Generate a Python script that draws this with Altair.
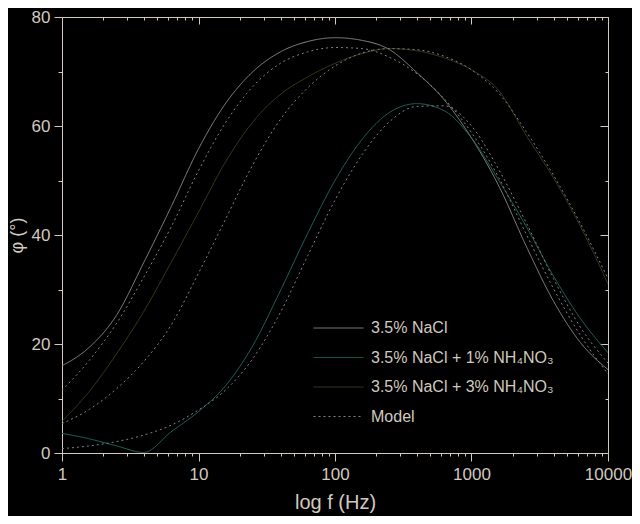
import altair as alt
import pandas as pd

# frequencies (Hz), log-spaced grid
FREQ = [1, 1.585, 2.512, 3.981, 6.31, 10, 15.85, 25.12, 39.81, 63.1, 100,
        158.5, 251.2, 398.1, 631, 1000, 1585, 2512, 3981, 6310, 10000]

NACL = [16.0, 19.4, 25.3, 35.0, 45.2, 55.8, 64.2, 70.0, 73.6, 75.5, 76.2,
        75.7, 74.0, 69.8, 64.8, 57.8, 49.0, 38.0, 27.9, 20.2, 15.3]
NACL_MODEL = [11.5, 17.0, 23.8, 32.3, 41.5, 51.8, 60.7, 67.3, 71.5, 73.6, 74.4,
              74.2, 72.6, 69.6, 65.0, 58.8, 50.5, 40.2, 30.2, 21.5, 14.5]
AN1 = [3.6, 2.6, 1.3, 0.1, 3.9, 7.6, 12.4, 19.8, 29.8, 40.3, 50.0,
       57.6, 62.5, 64.1, 62.8, 57.8, 50.0, 41.6, 32.5, 24.6, 18.4]
AN1_MODEL = [0.8, 1.3, 2.1, 3.3, 5.1, 7.9, 11.6, 17.4, 25.8, 36.2, 46.4,
             54.8, 60.8, 63.6, 63.7, 60.0, 52.0, 42.3, 32.0, 23.0, 16.5]
AN3 = [5.8, 11.3, 18.2, 26.0, 35.0, 44.2, 53.5, 60.8, 65.8, 69.0, 71.5,
       73.3, 74.2, 73.8, 72.5, 70.3, 66.5, 58.3, 50.5, 41.5, 31.0]
AN3_MODEL = [5.4, 8.0, 11.8, 16.8, 23.5, 33.0, 43.0, 53.0, 61.2, 67.0, 71.0,
             73.4, 74.2, 74.0, 72.8, 70.3, 66.0, 59.0, 51.0, 42.0, 32.0]

LABELS = ["3.5% NaCl", "3.5% NaCl + 1% NH\u2084NO\u2083",
          "3.5% NaCl + 3% NH\u2084NO\u2083", "Model"]
COLORS = ["#8e8a86", "#1f6e64", "#3a4020", "#828282"]
DASHES = [[1, 0], [1, 0], [1, 0], [2, 3]]

X_MAJOR = [1, 10, 100, 1000, 10000]
X_MINOR = [m * 10 ** k for k in range(4) for m in range(2, 10)]
Y_MAJOR = [0, 20, 40, 60, 80]
Y_MINOR = [10, 30, 50, 70]

curves = [
    ("nacl", LABELS[0], NACL),
    ("an1", LABELS[1], AN1),
    ("an3", LABELS[2], AN3),
    ("m_nacl", LABELS[3], NACL_MODEL),
    ("m_an1", LABELS[3], AN1_MODEL),
    ("m_an3", LABELS[3], AN3_MODEL),
]
rows = []
for cid, lab, vals in curves:
    for f, v in zip(FREQ, vals):
        rows.append({"f": f, "phi": v, "series": lab, "curve": cid})
df = pd.DataFrame(rows)

TXT = "#d2c9bf"
FONT = "Liberation Sans"
W, H = 546, 436

xscale = alt.Scale(type="log", domain=[1, 10000], nice=False)
yscale = alt.Scale(domain=[0, 80], nice=False, zero=False)

legend = alt.Legend(
    title=None, orient="none", legendX=251, legendY=303,
    symbolType="stroke", symbolSize=2500, symbolStrokeWidth=1,
    clipHeight=16, rowPadding=13.5, labelOffset=7, labelFontSize=16,
    labelColor=TXT, labelFont=FONT, padding=0, labelLimit=0,
)

lines = alt.Chart(df).mark_line(strokeWidth=1, interpolate="monotone", clip=True).encode(
    x=alt.X("f:Q", scale=xscale, axis=alt.Axis(
        orient="bottom", values=X_MAJOR, format="d", ticks=True, tickSize=8,
        tickWidth=1, tickOpacity=1, domain=False,
        grid=False, labelFontSize=17, labelPadding=5, labelColor=TXT, labelFont=FONT,
        tickColor=TXT, title="log f (Hz)", titleFontSize=20, titleFontWeight="normal",
        titleColor=TXT, titleFont=FONT, titlePadding=10, labelFlush=False)),
    y=alt.Y("phi:Q", scale=yscale, axis=alt.Axis(
        orient="left", values=Y_MAJOR, ticks=True, tickSize=8, tickWidth=1,
        tickOpacity=1, domain=False, grid=False,
        labelFontSize=17, labelPadding=4, labelColor=TXT, labelFont=FONT,
        tickColor=TXT, title="\u03c6 (\u00b0)", titleFontSize=18,
        titleFontWeight="normal", titleColor=TXT, titleFont=FONT, titlePadding=5,
        labelFlush=False)),
    color=alt.Color("series:N", scale=alt.Scale(domain=LABELS, range=COLORS), legend=legend),
    strokeDash=alt.StrokeDash("series:N", scale=alt.Scale(domain=LABELS, range=DASHES), legend=legend),
    detail="curve:N",
)


def tick_layer(xvals, xsize, xoff, yvals, ysize, yoff):
    xa = dict(orient="bottom", values=xvals, ticks=True, tickSize=xsize, tickWidth=1,
              tickOpacity=1, labels=False, domain=False,
              grid=False, title=None, tickColor=TXT)
    ya = dict(orient="left", values=yvals, ticks=True, tickSize=ysize, tickWidth=1,
              tickOpacity=1, labels=False, domain=False,
              grid=False, title=None, tickColor=TXT)
    if xoff:
        xa["offset"] = xoff
    if yoff:
        ya["offset"] = yoff
    return alt.Chart(df).mark_point(opacity=0).encode(
        x=alt.X("f:Q", scale=xscale, axis=alt.Axis(**xa)),
        y=alt.Y("phi:Q", scale=yscale, axis=alt.Axis(**ya)),
    )


minor_bl = tick_layer(X_MINOR, 3, 0, Y_MINOR, 4, 0)
major_tr = tick_layer(X_MAJOR, 7, -H, Y_MAJOR, 8, -W)
minor_tr = tick_layer(X_MINOR, 3, -H, Y_MINOR, 3, -W)

chart = alt.layer(lines, minor_bl, major_tr, minor_tr).resolve_axis(
    x="independent", y="independent"
).properties(
    width=W, height=H, background="black",
    autosize=alt.AutoSizeParams(type="none"),
    padding={"left": 54, "top": 9, "right": 24, "bottom": 63},
).configure_view(stroke=TXT, strokeWidth=1).configure_axis(
    ticks=True, tickColor=TXT, tickOpacity=1, tickWidth=1
)

chart.save("out.html", embed_options={"renderer": "svg", "actions": False})
